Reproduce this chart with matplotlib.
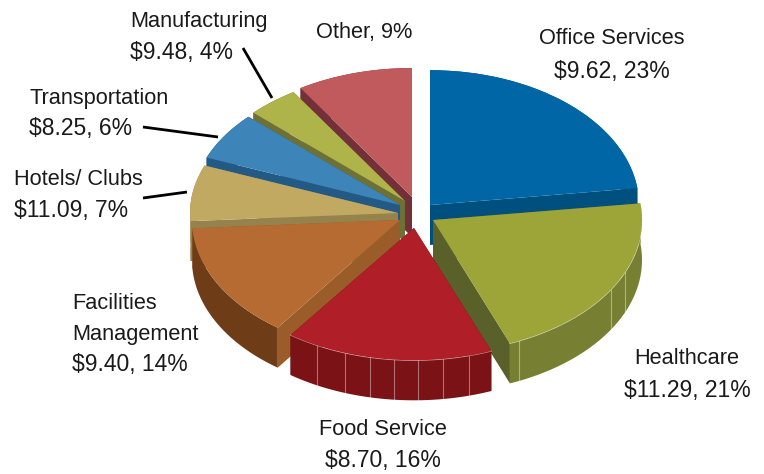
import numpy as np
import matplotlib
matplotlib.use("Agg")
import matplotlib.pyplot as plt
from matplotlib.patches import Wedge
from matplotlib.transforms import Affine2D

categories = ["Office Services", "Healthcare", "Food Service", "Facilities Management",
              "Hotels/ Clubs", "Transportation", "Manufacturing", "Other"]
shares = [23, 21, 16, 14, 7, 6, 4, 9]
prices = [9.62, 11.29, 8.70, 9.40, 11.09, 8.25, 9.48, None]

top_colors = ["#0066a6", "#9da538", "#b01f27", "#b56b32", "#c2a962", "#3d85b8", "#aeb34a", "#c05a5c"]
rim_colors = ["#00507f", "#778032", "#7a1216", "#6e3d18", "#96824c", "#235a85", "#6f7035", "#733038"]
cut_colors = ["#00507f", "#5a602a", "#5c0e10", "#9a5c28", "#96824c", "#235a85", "#6f7035", "#733038"]

apex_x = [430, 433, 414, 400, 398, 400, 405, 412]
apex_y = [205, 220, 228, 220, 213, 205, 201, 197]
radius = [209, 209, 210, 208, 208, 208, 208, 208]
squash = [0.645, 0.635, 0.63, 0.64, 0.62, 0.62, 0.62, 0.62]
depth = 40
draw_order = [7, 6, 5, 4, 0, 3, 1, 2]
facet_angles = {1: [-65.8, -31.8, -23.0],
                2: [-117.5, -109.2, -102.1, -95.5, -88.9, -82.0, -74.8]}

plt.rcParams['font.family'] = ['Liberation Sans Narrow', 'Liberation Sans', 'DejaVu Sans']
fig = plt.figure(figsize=(7.64, 4.74), dpi=100)
ax = fig.add_axes([0, 0, 1, 1])
ax.set_xlim(0, 764)
ax.set_ylim(474, 0)
ax.axis("off")

edges = 90 - np.cumsum([0] + shares) * 3.6


def pt(i, deg, dz=0):
    t = np.radians(deg)
    return (apex_x[i] + radius[i] * np.cos(t),
            apex_y[i] - radius[i] * squash[i] * np.sin(t) + dz)


z = 1
for i in draw_order:
    a1, a0 = edges[i], edges[i + 1]
    cx, cy = apex_x[i], apex_y[i]
    # straight cut faces
    for a in (a0, a1):
        x, y = pt(i, a)
        ax.fill([cx, x, x, cx], [cy, y, y + depth, cy + depth], color=cut_colors[i], lw=0, zorder=z)
    z += 1
    # outer rim
    tt = np.linspace(a0, a1, 120)
    xs, ys = pt(i, tt)
    ax.fill(np.r_[xs, xs[::-1]], np.r_[ys, ys[::-1] + depth], color=rim_colors[i], lw=0, zorder=z)
    z += 1
    for a in facet_angles.get(i, []):
        x, y = pt(i, a)
        ax.plot([x, x], [y, y + depth], color="white", alpha=0.4, lw=0.8, zorder=z)
    if i in (1, 2):
        ax.plot(xs, ys, color="white", alpha=0.55, lw=0.8, zorder=z + 1)
    # top face: circle wedge squashed about its apex
    tr = (Affine2D().translate(-cx, -cy).scale(1, squash[i]).translate(cx, cy) + ax.transData)
    # y axis is inverted, so angles are negated
    w = Wedge((cx, cy), radius[i], -a1, -a0, facecolor=top_colors[i], edgecolor="none", transform=tr, zorder=z + 2)
    ax.add_patch(w)
    z += 4

name_fs = 15.7
num_fs = 16.5
labels = [
    ("Office Services", 612, 38.5, "center", name_fs), ("$9.62, 23%", 612, 71, "center", num_fs),
    ("Healthcare", 687, 358.5, "center", name_fs), ("$11.29, 21%", 687, 391, "center", num_fs),
    ("Food Service", 383, 429.5, "center", name_fs), ("$8.70, 16%", 383, 461, "center", num_fs),
    ("Facilities", 72, 303.5, "left", name_fs), ("Management", 72, 334.5, "left", name_fs), ("$9.40, 14%", 72, 365, "left", num_fs),
    ("Hotels/ Clubs", 14, 179.5, "left", name_fs), ("$11.09, 7%", 14, 210, "left", num_fs),
    ("Transportation", 29, 98.5, "left", name_fs), ("$8.25, 6%", 29, 128, "left", num_fs),
    ("Manufacturing", 130, 21.5, "left", name_fs), ("$9.48, 4%", 130, 52, "left", num_fs),
    ("Other, 9%", 316, 32.5, "left", name_fs),
]
for s, x, y, ha, fs in labels:
    ax.text(x, y, s, ha=ha, va="center", fontsize=fs, color="#1a1a1a", zorder=200)

leaders = [((243, 48), (272, 98)), ((143, 127), (218, 137)), ((143, 198), (187, 192))]
for (x0, y0), (x1, y1) in leaders:
    ax.plot([x0, x1], [y0, y1], color="black", lw=2, zorder=150, solid_capstyle="butt")

fig.savefig("out.png", dpi=100)
